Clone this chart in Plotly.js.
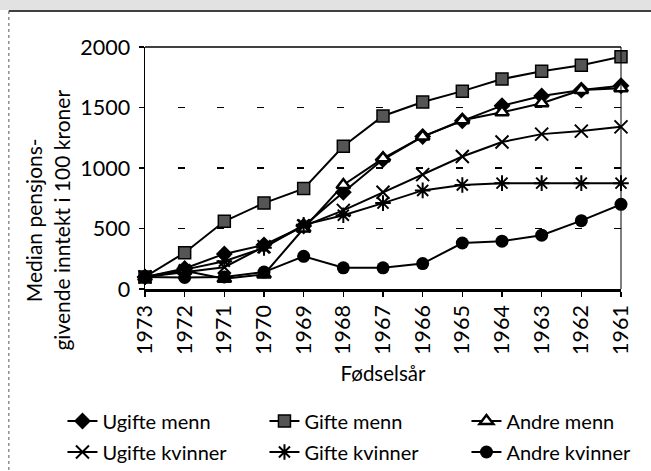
<!DOCTYPE html>
<html>
<head>
<meta charset="utf-8">
<script src="https://cdn.plot.ly/plotly-3.0.1.min.js"></script>
<style>html,body{margin:0;padding:0;background:#fff;}#chart{width:651px;height:471px;}</style>
</head>
<body>
<div id="chart"></div>
<script>
const years = ['1973','1972','1971','1970','1969','1968','1967','1966','1965','1964','1963','1962','1961'];
const ugifteMenn    = [100, 170, 290, 365, 520,  800, 1070, 1260, 1390, 1515, 1595, 1645, 1680];
const gifteMenn     = [100, 300, 560, 710, 830, 1180, 1430, 1545, 1635, 1735, 1800, 1850, 1920];
const andreMenn     = [100, 150,  85, 120, 500,  860, 1080, 1260, 1395, 1460, 1535, 1645, 1660];
const ugifteKvinner = [100, 140, 180, 350, 520,  650,  800,  945, 1095, 1215, 1280, 1305, 1340];
const gifteKvinner  = [100, 160, 230, 340, 530,  610,  710,  815,  860,  875,  875,  875,  875];
const andreKvinner  = [100,  95, 100, 140, 270,  175,  175,  210,  380,  395,  445,  565,  700];
const yTicks = [0, 500, 1000, 1500, 2000];

const FONT = 'Lato, "Open Sans", sans-serif';

function tr(name, y, marker, legend) {
  return {
    type: 'scatter', mode: 'lines+markers', name: name, x: years, y: y,
    line: {color: '#000', width: 2}, marker: marker, legend: legend, cliponaxis: false
  };
}

const data = [
  tr('Ugifte menn', ugifteMenn, {symbol: 'diamond', size: 13, color: '#000'}, 'legend'),
  tr('Gifte menn', gifteMenn, {symbol: 'square', size: 12, color: '#555', line: {color: '#000', width: 1.5}}, 'legend'),
  tr('Andre menn', andreMenn, {symbol: 'triangle-up', size: 12, color: '#fff', line: {color: '#000', width: 2.5}}, 'legend'),
  tr('Ugifte kvinner', ugifteKvinner, {symbol: 'x-thin-open', size: 13, color: '#000', line: {color: '#000', width: 2}}, 'legend2'),
  tr('Gifte kvinner', gifteKvinner, {symbol: 'asterisk-open', size: 13, color: '#000', line: {color: '#000', width: 2}}, 'legend2'),
  tr('Andre kvinner', andreKvinner, {symbol: 'circle', size: 13, color: '#000'}, 'legend2')
];

const legendBase = {
  orientation: 'h', xref: 'paper', yref: 'paper',
  xanchor: 'left', yanchor: 'middle', x: -0.1734,
  entrywidth: 157, entrywidthmode: 'pixels', bgcolor: 'rgba(0,0,0,0)',
  font: {family: FONT, size: 20, color: '#000'}, traceorder: 'normal'
};

const layout = {
  width: 651, height: 471,
  margin: {l: 145, r: 30, t: 47, b: 182, autoexpand: false},
  paper_bgcolor: '#fff', plot_bgcolor: '#fff',
  font: {family: FONT, size: 21, color: '#000'},
  showlegend: true,
  xaxis: {
    type: 'category', categoryorder: 'array', categoryarray: years,
    range: [0, 12], automargin: false,
    tickangle: -90, ticks: 'outside', ticklen: 5, tickwidth: 1.5, tickcolor: '#000',
    showline: true, linewidth: 2.5, linecolor: '#000', showgrid: false, zeroline: false,
    tickfont: {family: FONT, size: 21.5, color: '#000'},
    title: {text: 'Fødselsår', font: {family: FONT, size: 20.5, color: '#000'}, standoff: 13}
  },
  yaxis: {
    range: [0, 2000], tickvals: yTicks, ticktext: yTicks.map(String), automargin: false,
    ticks: 'outside', ticklen: 5, tickwidth: 1.5, tickcolor: '#000', ticklabelstandoff: 4,
    showline: true, linewidth: 1.5, linecolor: '#000', zeroline: false,
    showgrid: true, gridcolor: '#000', gridwidth: 1.5, griddash: '0px,32.7px,7px,0px',
    tickfont: {family: FONT, size: 21.5, color: '#000'}
  },
  xaxis2: {
    overlaying: 'x', anchor: 'y2', range: [0, 12], dtick: 1, tick0: 0,
    ticks: 'inside', ticklen: 5, tickwidth: 1.5, tickcolor: '#000',
    showticklabels: false, showgrid: false, zeroline: false, showline: false
  },
  yaxis2: {
    overlaying: 'y', anchor: 'x2', side: 'left', range: [0, 2000], tickvals: yTicks,
    ticks: 'inside', ticklen: 5, tickwidth: 1.5, tickcolor: '#000',
    showticklabels: false, showgrid: false, zeroline: false, showline: false
  },
  legend: Object.assign({}, legendBase, {y: -0.5455}),
  legend2: Object.assign({}, legendBase, {y: -0.6736}),
  annotations: [{
    xref: 'paper', yref: 'paper', x: -0.2048, y: 0.285, xanchor: 'center', yanchor: 'middle',
    text: 'Median pensjons-<br>givende inntekt i 100 kroner', textangle: -90, showarrow: false,
    font: {family: FONT, size: 21, color: '#000'}
  }],
  shapes: [
    {type: 'rect', xref: 'paper', yref: 'paper', x0: -0.31, x1: 1.07, y0: 1.153, y1: 1.2,
     fillcolor: '#e2e2e2', line: {width: 0}, layer: 'below'},
    {type: 'line', xref: 'paper', yref: 'paper', x0: -0.286, x1: 1.07, y0: 1.1488, y1: 1.1488,
     line: {color: '#000', width: 1.5}},
    {type: 'line', xref: 'paper', yref: 'paper', x0: -0.286, x1: -0.286, y0: 1.1488, y1: -0.76,
     line: {color: '#555', width: 1, dash: 'dot'}},
    {type: 'line', xref: 'paper', yref: 'paper', x0: 0, x1: 1, y0: 1, y1: 1,
     line: {color: '#000', width: 1.5}},
    {type: 'line', xref: 'paper', yref: 'paper', x0: 1, x1: 1, y0: 0, y1: 1,
     line: {color: '#000', width: 1}}
  ]
};

Plotly.newPlot('chart', data, layout, {displayModeBar: false, staticPlot: true});
</script>
</body>
</html>
